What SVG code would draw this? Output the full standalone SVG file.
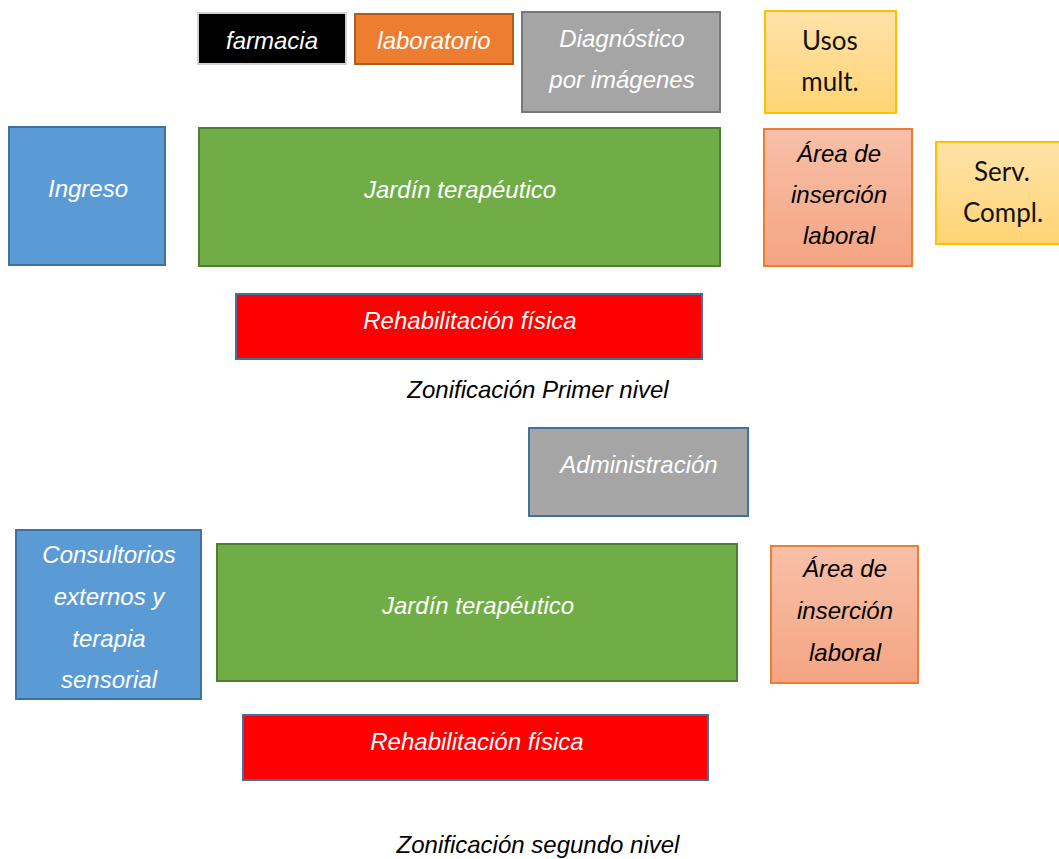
<svg xmlns="http://www.w3.org/2000/svg" width="1059" height="859" viewBox="0 0 1059 859">
<defs>
<linearGradient id="gOrange" x1="0" y1="0" x2="0" y2="1"><stop offset="0" stop-color="#F8C0A8"/><stop offset="1" stop-color="#F4A482"/></linearGradient>
<linearGradient id="gYellow" x1="0" y1="0" x2="0" y2="1"><stop offset="0" stop-color="#FFE2A8"/><stop offset="1" stop-color="#FFD475"/></linearGradient>
<style>
rect{stroke-width:2}
.t{font-family:"Liberation Sans",Arial,sans-serif;font-style:italic;font-size:24px;fill:#fff;text-anchor:middle}
.k{fill:#000}
.c{font-family:Lato,"Open Sans",sans-serif;font-size:26px;fill:#111;text-anchor:middle}
.blue{fill:#5B9BD5;stroke:#41719C}
.green{fill:#70AD47;stroke:#507E32}
.red{fill:#FF0000;stroke:#41719C}
.grayb{fill:#A5A5A5;stroke:#41719C}
.sal{fill:url(#gOrange);stroke:#ED7D31}
.yel{fill:url(#gYellow);stroke:#FFC000}
</style>
</defs>
<rect width="1059" height="859" fill="#fff"/>
<g id="farmacia"><rect x="198" y="13" width="148" height="51" fill="#000" stroke="#d0d0d0"/><text class="t" x="272" y="49">farmacia</text></g>
<g id="laboratorio"><rect x="355" y="14" width="158" height="50" fill="#ED7D31" stroke="#AE5A21"/><text class="t" x="434" y="49">laboratorio</text></g>
<g id="diagnostico"><rect x="522" y="12" width="198" height="100" fill="#A5A5A5" stroke="#787878"/><text class="t" x="622" y="47">Diagnóstico</text><text class="t" x="622" y="88">por imágenes</text></g>
<g id="usos"><rect x="765" y="11" width="131" height="102" class="yel"/><text class="c" x="830" y="50">Usos</text><text class="c" x="830" y="91">mult.</text></g>
<g id="ingreso"><rect x="9" y="127" width="156" height="138" class="blue"/><text class="t" x="88" y="197">Ingreso</text></g>
<g id="jardin1"><rect x="199" y="128" width="521" height="138" class="green"/><text class="t" x="460" y="198">Jardín terapéutico</text></g>
<g id="insercion1"><rect x="764" y="129" width="148" height="137" class="sal"/><text class="t k" x="839" y="162">Área de</text><text class="t k" x="839" y="203">inserción</text><text class="t k" x="839" y="244">laboral</text></g>
<g id="serv"><rect x="936" y="142" width="130" height="102" class="yel"/><text class="c" x="1002" y="181">Serv.</text><text class="c" x="1003" y="222">Compl.</text></g>
<g id="rehab1"><rect x="236" y="294" width="466" height="65" class="red"/><text class="t" x="470" y="329">Rehabilitación física</text></g>
<g id="titulo1"><text class="t k" x="538" y="398">Zonificación Primer nivel</text></g>
<g id="admin"><rect x="529" y="428" width="219" height="88" class="grayb"/><text class="t" x="639" y="473">Administración</text></g>
<g id="consultorios"><rect x="16" y="530" width="185" height="169" class="blue"/><text class="t" x="109" y="563">Consultorios</text><text class="t" x="109" y="605">externos y</text><text class="t" x="109" y="647">terapia</text><text class="t" x="109" y="688">sensorial</text></g>
<g id="jardin2"><rect x="217" y="544" width="520" height="137" class="green"/><text class="t" x="478" y="614">Jardín terapéutico</text></g>
<g id="insercion2"><rect x="771" y="546" width="147" height="137" class="sal"/><text class="t k" x="845" y="577">Área de</text><text class="t k" x="845" y="619">inserción</text><text class="t k" x="845" y="661">laboral</text></g>
<g id="rehab2"><rect x="243" y="715" width="465" height="65" class="red"/><text class="t" x="477" y="750">Rehabilitación física</text></g>
<g id="titulo2"><text class="t k" x="538" y="853">Zonificación segundo nivel</text></g>
<g id="connectors"></g>
</svg>
